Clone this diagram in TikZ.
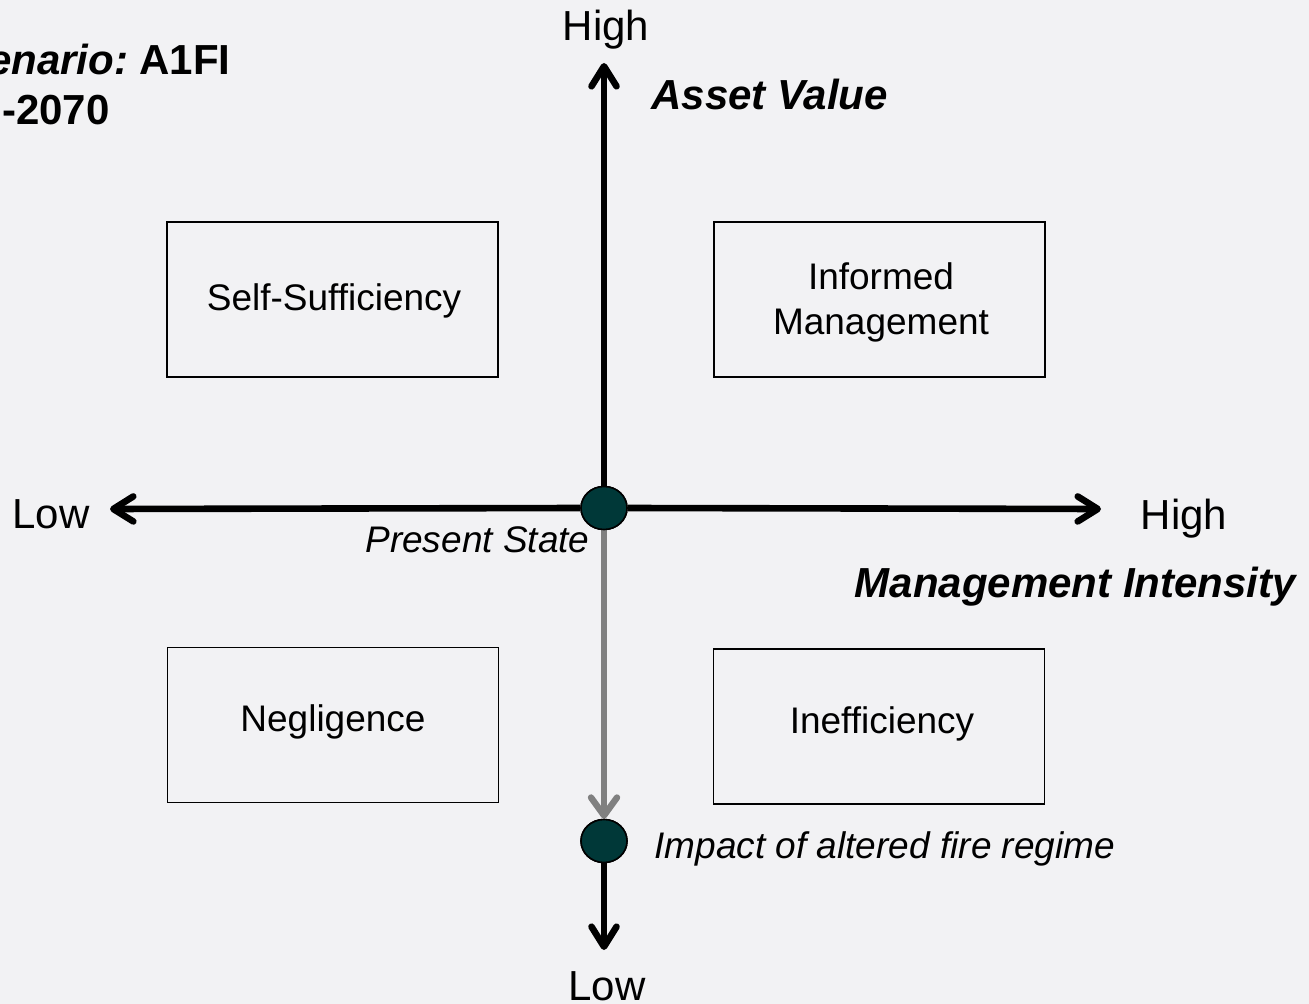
\documentclass[tikz,border=0pt]{standalone}
\usepackage{fontspec}
\setmainfont{Liberation Sans}
\usetikzlibrary{arrows.meta,shapes.geometric}
\definecolor{bg}{RGB}{242,242,244}
\definecolor{dot}{RGB}{0,56,56}
\definecolor{greyarrow}{RGB}{128,128,128}
\tikzset{
  px/.style={x=0.5pt,y=-0.5pt},
  quad/.style={draw=black,line width=0.6pt,minimum width=165.5pt,minimum height=77.5pt,
    align=center,font=\fontsize{18.5}{22.5}\selectfont,inner sep=0pt},
  quadtext/.style={align=center,font=\fontsize{18.5}{22.5}\selectfont,inner sep=0pt},
  dotnode/.style={ellipse,draw=black,line width=0.8pt,fill=dot,minimum width=23pt,minimum height=21.5pt,inner sep=0pt},
  axis/.style={line width=3.3pt,black,-{Straight Barb[length=10pt,width=12.5pt,round]}},
  greyaxis/.style={line width=3.2pt,greyarrow,-{Straight Barb[length=9pt,width=13pt,round]}},
  big/.style={font=\fontsize{21}{25}\selectfont,inner sep=0pt},
  small/.style={font=\fontsize{18.5}{22.5}\selectfont,inner sep=0pt},
}
\begin{document}
\begin{tikzpicture}[px]
\fill[bg] (0,0) rectangle (1309,1004);
\useasboundingbox (0,0) rectangle (1309,1004);

% boxes
\node[quad] (self) at (332.5,299.5) {};
\node[quad] (inf) at (879.5,299.5) {};
\node[quad] (neg) at (333,725) {};
\node[quad] (ineff) at (879,726.5) {};
\node[quadtext] (selft) at (334,301) {Self-Sufficiency};
\node[quadtext] (inft) at (881,302) {Informed\\Management};
\node[quadtext] (negt) at (333,722) {Negligence};
\node[quadtext] (inefft) at (882,724) {Inefficiency};

% axes
\node[dotnode] (c0) at (604,508) {};
\node[dotnode] (c1) at (604,841) {};
\coordinate (top) at (604,63);
\coordinate (bot) at (604,950);
\coordinate (lft) at (110,509);
\coordinate (rgt) at (1101,509);

\draw[axis] (c0.north) -- (top);
\draw[axis] (c0.west) -- (lft);
\draw[axis] (c0.east) -- (rgt);
\draw[greyaxis] (c0.south) -- (c1.north);
\draw[axis] (c1.south) -- (bot);
\node[dotnode] at (c0) {};
\node[dotnode] at (c1) {};

% labels
\node[big,anchor=base] (hightop) at (606,41) {High};
\node[big,anchor=base] (lowbot) at (607,1000) {Low};
\node[big,anchor=base] (lowleft) at (51,528) {Low};
\node[big,anchor=base] (highright) at (1184,529) {High};
\node[big,anchor=base west] (asset) at (651,110) {\textbf{\textit{Asset Value}}};
\node[big,anchor=base east] (mgmt) at (1298,597) {\textbf{\textit{Management Intensity}}};
\node[small,anchor=base east] (present) at (590,552) {\textit{Present State}};
\node[small,anchor=base west] (impact) at (654,858) {\textit{Impact of altered fire regime}};
\node[big,anchor=base east] (scen) at (231,75) {\textbf{\textit{enario:}\hspace{-2pt} A1FI}};
\node[big,anchor=base east] (years) at (110,125) {\textbf{-2070}};
\end{tikzpicture}
\end{document}
